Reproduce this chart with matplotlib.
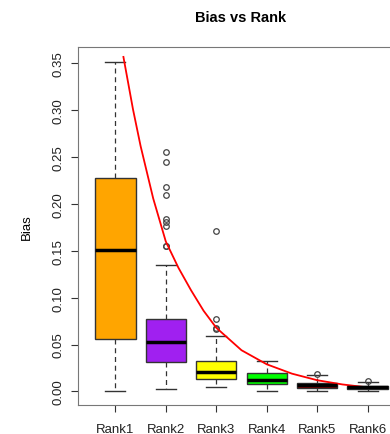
import numpy as np
import matplotlib.pyplot as plt

ranks = ['Rank1', 'Rank2', 'Rank3', 'Rank4', 'Rank5', 'Rank6']
colors = ['#FFA500', '#A020F0', '#FFFF00', '#00FF00', '#8B0000', '#00008B']
whislo = [0.000, 0.0025, 0.005, 0.001, 0.0004, 0.000]
q1 = [0.0558, 0.0313, 0.0132, 0.0082, 0.0040, 0.0021]
med = [0.151, 0.053, 0.0213, 0.0125, 0.0071, 0.0043]
q3 = [0.2275, 0.0775, 0.033, 0.0196, 0.0093, 0.0060]
whishi = [0.352, 0.135, 0.0587, 0.032, 0.0178, 0.0096]
fliers = [[],
          [0.2555, 0.2445, 0.2186, 0.2097, 0.184, 0.1806, 0.1767, 0.1557, 0.155],
          [0.1717, 0.0775, 0.068, 0.0665],
          [],
          [0.0189],
          [0.0114]]

# red decay curve
curve_x = [1.16, 1.35, 1.5, 1.75, 2.0, 2.25, 2.5, 2.75, 3.0, 3.5, 4.0, 4.5, 5.0, 5.5, 6.0]
curve_y = [0.357, 0.301, 0.262, 0.206, 0.160, 0.132, 0.108, 0.086, 0.068, 0.044, 0.029, 0.019, 0.012, 0.0075, 0.0043]

plt.rcParams['font.family'] = ['Liberation Sans', 'DejaVu Sans']

fig = plt.figure(figsize=(3.9, 4.35), dpi=100)
ax = fig.add_axes([0.2, 0.0674, 0.8385, 0.8223])

stats = []
for i in range(len(ranks)):
    stats.append(dict(label=ranks[i], whislo=whislo[i], q1=q1[i], med=med[i],
                      q3=q3[i], whishi=whishi[i], fliers=fliers[i]))

bp = ax.bxp(stats, positions=range(1, 7), widths=0.8, patch_artist=True,
            boxprops=dict(edgecolor='#333333', linewidth=1),
            medianprops=dict(color='black', linewidth=2.5),
            whiskerprops=dict(color='#333333', linestyle=(0, (4, 3)), linewidth=0.9),
            capprops=dict(color='#333333', linewidth=1),
            flierprops=dict(marker='o', markersize=4, markerfacecolor='none',
                            markeredgecolor='#444444', markeredgewidth=0.9))
for cap in bp['caps']:
    x0, x1 = cap.get_xdata()
    c = (x0 + x1) / 2
    cap.set_xdata([c - 0.2, c + 0.2])
for patch, col in zip(bp['boxes'], colors):
    patch.set_facecolor(col)

ax.plot(curve_x, curve_y, color='red', linewidth=1.3)

ax.set_xlim(0.26, 6.74)
ax.set_ylim(-0.0141, 0.3676)
ax.set_yticks(np.arange(0, 0.351, 0.05))
ax.set_yticklabels(['%.2f' % v for v in np.arange(0, 0.351, 0.05)])
ax.tick_params(axis='y', labelrotation=90, length=5, labelsize=9.5, colors='#333333', pad=5)
ax.tick_params(axis='x', length=5, labelsize=9.5, pad=8, colors='#333333')
for lab in ax.get_yticklabels():
    lab.set_va('center')
    lab.set_color('#222222')
for lab in ax.get_xticklabels():
    lab.set_color('#222222')
for s in ax.spines.values():
    s.set_color('#777777')
ax.set_ylabel('Bias', fontsize=9.5, labelpad=14)
fig.text(0.618, 0.958, 'Bias vs Rank', ha='center', va='center', fontsize=10.5, fontweight='bold')

fig.savefig('out.png', dpi=100)
